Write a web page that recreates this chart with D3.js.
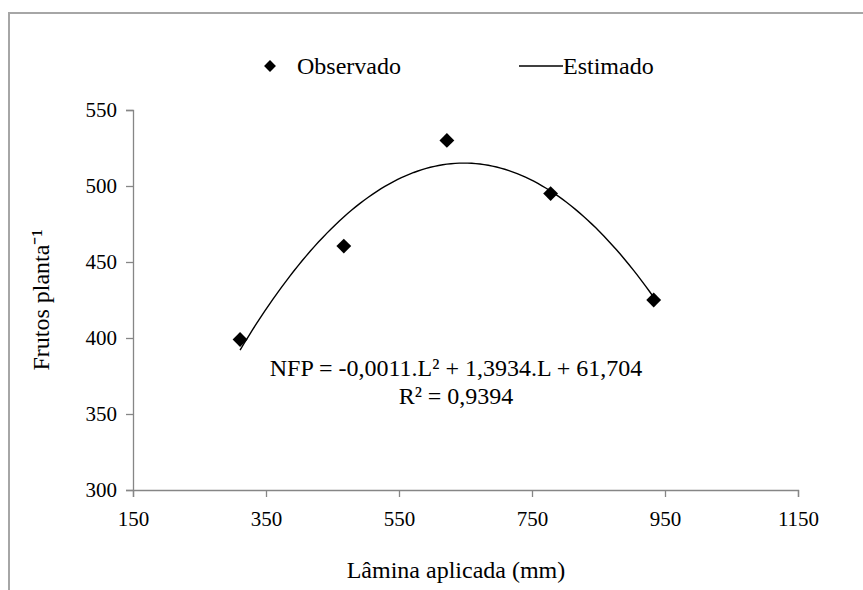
<!DOCTYPE html>
<html>
<head>
<meta charset="utf-8">
<script src="https://cdn.jsdelivr.net/npm/d3@7"></script>
<style>
  html, body { margin: 0; padding: 0; background: #fff; }
  svg { display: block; }
  text { font-family: "Liberation Serif", "Times New Roman", serif; fill: #000; }
</style>
</head>
<body>
<svg id="chart" width="863" height="590"></svg>
<script>
// ---- data ----
const laminas = [311, 467, 622, 778, 933];          // Lâmina aplicada (mm)
const frutos = [399, 460.5, 530, 495, 425];          // Frutos planta-1 (observado)
const xTicks = [150, 350, 550, 750, 950, 1150];
const yTicks = [300, 350, 400, 450, 500, 550];
const equationText = "NFP = -0,0011.L² + 1,3934.L + 61,704";
const r2Text = "R² = 0,9394";
const legendLabels = ["Observado", "Estimado"];

// ---- layout ----
const W = 863, H = 590;
const plot = { left: 133, right: 798, top: 110, bottom: 490 };
const svg = d3.select("#chart");

// frame
svg.append("rect")
  .attr("x", 9).attr("y", 13)
  .attr("width", W + 20).attr("height", H + 20)
  .attr("fill", "none").attr("stroke", "#a6a6a6").attr("stroke-width", 2);

const x = d3.scaleLinear().domain([150, 1150]).range([plot.left, plot.right]);
const y = d3.scaleLinear().domain([300, 550]).range([plot.bottom, plot.top]);

// axes
const xAxis = d3.axisBottom(x).tickValues(xTicks).tickSize(7).tickSizeOuter(7).tickPadding(14).tickFormat(d3.format("d"));
const yAxis = d3.axisLeft(y).tickValues(yTicks).tickSize(7).tickSizeOuter(7).tickPadding(9).tickFormat(d3.format("d"));

const gx = svg.append("g").attr("transform", `translate(0,${plot.bottom})`).call(xAxis);
const gy = svg.append("g").attr("transform", `translate(${plot.left},0)`).call(yAxis);
[gx, gy].forEach(g => {
  g.selectAll("path.domain").attr("stroke", "#868686").attr("stroke-width", 1.3);
  g.selectAll(".tick line").attr("stroke", "#868686").attr("stroke-width", 1.3);
  g.selectAll(".tick text").attr("font-family", "Liberation Serif").attr("font-size", 21).attr("fill", "#000");
});

// quadratic least-squares fit of the observed data (Excel polynomial trendline)
function polyFit2(xs, ys) {
  const n = xs.length;
  let s = [0,0,0,0,0], t = [0,0,0];
  for (let i = 0; i < n; i++) {
    const xi = xs[i];
    for (let k = 0; k < 5; k++) s[k] += Math.pow(xi, k);
    for (let k = 0; k < 3; k++) t[k] += ys[i] * Math.pow(xi, k);
  }
  const A = [[s[0], s[1], s[2]], [s[1], s[2], s[3]], [s[2], s[3], s[4]]];
  const b = t.slice();
  for (let i = 0; i < 3; i++) {
    for (let j = i + 1; j < 3; j++) {
      const f = A[j][i] / A[i][i];
      for (let k = i; k < 3; k++) A[j][k] -= f * A[i][k];
      b[j] -= f * b[i];
    }
  }
  const c = [0,0,0];
  for (let i = 2; i >= 0; i--) {
    let sum = b[i];
    for (let k = i + 1; k < 3; k++) sum -= A[i][k] * c[k];
    c[i] = sum / A[i][i];
  }
  return c;
}
const coef = polyFit2(laminas, frutos);
const fitFn = L => coef[0] + coef[1] * L + coef[2] * L * L;
const lo = d3.min(laminas), hi = d3.max(laminas);
const curve = d3.range(0, 101).map(i => { const L = lo + (hi - lo) * i / 100; return [L, fitFn(L)]; });

svg.append("path")
  .datum(curve)
  .attr("fill", "none").attr("stroke", "#000").attr("stroke-width", 1.4)
  .attr("d", d3.line().x(d => x(d[0])).y(d => y(d[1])));

// markers
const diamond = d3.symbol().type(d3.symbolDiamond2).size(140);
svg.append("g").selectAll("path")
  .data(laminas.map((L, i) => [L, frutos[i]]))
  .join("path")
  .attr("d", diamond)
  .attr("transform", d => `translate(${x(d[0])},${y(d[1])})`)
  .attr("fill", "#000");

// equation
svg.append("text").attr("x", 456).attr("y", 376).attr("text-anchor", "middle")
  .attr("font-size", 24).text(equationText);
svg.append("text").attr("x", 456).attr("y", 404).attr("text-anchor", "middle")
  .attr("font-size", 24).text(r2Text);

// legend
const lg = svg.append("g");
lg.append("path").attr("d", d3.symbol().type(d3.symbolDiamond2).size(90))
  .attr("transform", "translate(270,66)").attr("fill", "#000");
lg.append("text").attr("x", 297).attr("y", 74).attr("font-size", 24).text(legendLabels[0]);
lg.append("line").attr("x1", 519).attr("x2", 563).attr("y1", 66).attr("y2", 66)
  .attr("stroke", "#000").attr("stroke-width", 1.4);
lg.append("text").attr("x", 563).attr("y", 74).attr("font-size", 24).text(legendLabels[1]);

// axis titles
svg.append("text").attr("x", 456).attr("y", 578).attr("text-anchor", "middle")
  .attr("font-size", 24).text("Lâmina aplicada (mm)");
svg.append("text").attr("transform", "translate(49,300) rotate(-90)").attr("text-anchor", "middle")
  .attr("font-size", 24).text("Frutos planta⁻¹");
</script>
</body>
</html>
